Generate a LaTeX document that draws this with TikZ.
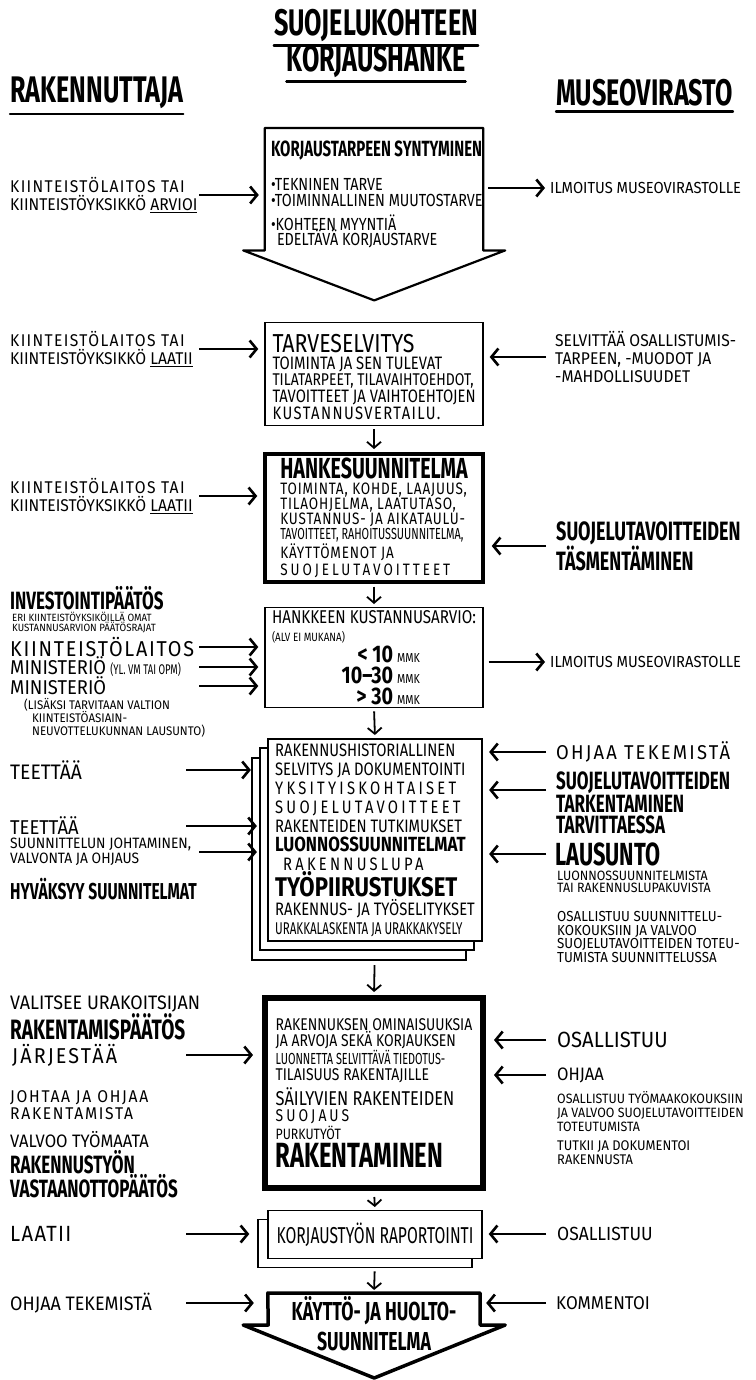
\documentclass[tikz,border=0pt]{standalone}
\usepackage{fontspec}
\setmainfont{Fira Sans}[FakeStretch=0.92]
\newfontfamily\semi{Fira Sans}[FakeStretch=0.82]
\newfontfamily\cond{Fira Sans}[FakeStretch=0.68]
\usetikzlibrary{arrows.meta,shadows}
\newcommand\fs[2]{\fontsize{#1}{#2}\selectfont}
\newcommand\spaced[1]{{\addfontfeatures{LetterSpace=18}#1}}
\newcommand\wide[2]{{\addfontfeatures{LetterSpace=#1}#2}}
\begin{document}
\begin{tikzpicture}[x=1pt,y=-1pt,
	lab/.style={anchor=west,align=left,inner sep=0pt,font=\fs{17}{18}},
	hd/.style={anchor=west,align=left,inner sep=0pt},
	txt/.style={anchor=north west,align=left,inner sep=0pt},
	box/.style={draw,anchor=north,align=left,minimum width=218pt,inner xsep=6pt,inner ysep=0pt,font=\semi\fs{18}{17}},
	arr/.style={line width=2.6pt,-{Straight Barb[length=7pt,width=17pt]},shorten >=6pt},
	down/.style={line width=1.8pt,-{Straight Barb[length=6pt,width=14pt]},shorten <=3pt,shorten >=3pt},
	ul/.style={line width=2.4pt,line cap=round}]
	\useasboundingbox (0,0) rectangle (755,1380);
	\coordinate (lx) at (199,0);
	\coordinate (ls) at (186,0);
	\coordinate (rx) at (546,0);
	
	\node (tt) at (376,25) [inner sep=0pt,font=\cond\bfseries\fs{37}{37}] {SUOJELUKOHTEEN};
	\node (tk) at (376,61) [inner sep=0pt,font=\cond\bfseries\fs{37}{37}] {KORJAUSHANKE};
	\node (rak) at (10,93) [hd,font=\cond\bfseries\fs{37}{37}] {RAKENNUTTAJA};
	\node (mus) at (556,93) [hd,font=\cond\bfseries\fs{37}{37}] {MUSEOVIRASTO};
	\draw[ul] ([yshift=-4pt]tt.south west) -- ([yshift=-4pt]tt.south east);
	\draw[ul] ([yshift=-4pt]tk.south west) -- ([yshift=-4pt]tk.south east);
	\draw[ul] ([yshift=-5pt]rak.south west) -- ([yshift=-5pt]rak.south east);
	\draw[ul] ([yshift=-5pt]mus.south west) -- ([yshift=-5pt]mus.south east);
	
	\node (b1) at (374,128) [box,draw=none,minimum height=122pt] {};
	\draw[line width=2.2pt,line join=round] (b1.south west) -- (b1.north west) -- (b1.north east)
	-- (b1.south east) -- ++(22,0) -- ++(-131,50) -- ++(-131,-50) -- cycle;
	\node (b1t) at ([shift={(6,13)}]b1.north west) [txt,font=\semi\fs{17.5}{16}]
	{{\cond\bfseries\fs{22}{22}KORJAUSTARPEEN SYNTYMINEN}\\[18pt]
		•TEKNINEN TARVE\\
		•TOIMINNALLINEN MUUTOSTARVE\\[8pt]
		•KOHTEEN MYYNTIÄ\\[-1pt]
		\hspace*{6pt}EDELTÄVÄ KORJAUSTARVE};
	
	\node (b2) at (374,322) [box,line width=1.4pt,minimum height=103pt] {};
	\node (b2t) at ([shift={(8,12)}]b2.north west) [txt,font=\semi\fs{18}{16.7}]
	{{\fs{26}{26}TARVESELVITYS}\\[0pt]
		TOIMINTA JA SEN TULEVAT\\
		{\fs{17}{16.7}TILATARPEET, TILAVAIHTOEHDOT,}\\
		TAVOITTEET JA VAIHTOEHTOJEN\\
		\wide{8}{KUSTANNUSVERTAILU.}};
	
	\node (b3) at (374,452) [box,line width=3.5pt,minimum height=128pt,font=\semi\fs{16.5}{15}\addfontfeatures{LetterSpace=5}]
	{{\cond\bfseries\fs{29}{29}HANKESUUNNITELMA}\\[1pt]
		TOIMINTA, KOHDE, LAAJUUS,\\
		TILAOHJELMA, LAATUTASO,\\
		KUSTANNUS- JA AIKATAULU-\\
		{\cond\fs{16}{15}TAVOITTEET, RAHOITUSSUUNNITELMA,}\\
		KÄYTTÖMENOT JA\\[2pt]
		\spaced{SUOJELUTAVOITTEET}};
	
	\node (b4) at (374,607) [box,line width=1.4pt,minimum height=100pt,font=\semi\fs{18.5}{21}]
	{HANKKEEN KUSTANNUSARVIO:\\[-3pt]
		{\fs{12}{12}(ALV EI MUKANA)}\\
		\makebox[148pt][r]{{\bfseries\fs{24}{22}< 10} {\fs{13}{13}MMK}}\\
		\makebox[148pt][r]{{\bfseries\fs{24}{22}10–30} {\fs{13}{13}MMK}}\\
		\makebox[148pt][r]{{\bfseries\fs{24}{22}> 30} {\fs{13}{13}MMK}}};
	
	\node (b5) at (375,738) [box,fill=white,line width=2.2pt,minimum width=214pt,minimum height=202pt,font=\semi\fs{18}{19},
	general shadow={shadow xshift=-16pt,shadow yshift=-19pt,draw,fill=white,line width=2pt},
	general shadow={shadow xshift=-8pt,shadow yshift=-9pt,draw,fill=white,line width=2pt}]
	{RAKENNUSHISTORIALLINEN\\
		SELVITYS JA DOKUMENTOINTI\\
		\spaced{YKSITYISKOHTAISET}\\
		\spaced{SUOJELUTAVOITTEET}\\
		RAKENTEIDEN TUTKIMUKSET\\
		{\bfseries\fs{20.5}{20}LUONNOSSUUNNITELMAT}\\
		\hspace*{8pt}\spaced{RAKENNUSLUPA}\\
		{\bfseries\fs{27}{24}TYÖPIIRUSTUKSET}\\
		RAKENNUS- JA TYÖSELITYKSET\\
		{\cond\fs{17}{17}URAKKALASKENTA JA URAKKAKYSELY}};
	
	\node (b6) at (374,995) [box,line width=6pt,minimum height=190pt,font=\semi\fs{17}{16.5}]
	{RAKENNUKSEN OMINAISUUKSIA\\
		JA ARVOJA SEKÄ KORJAUKSEN\\
		{\cond\fs{16}{16}LUONNETTA SELVITTÄVÄ TIEDOTUS-}\\
		TILAISUUS RAKENTAJILLE\\[3pt]
		{\fs{20}{20}SÄILYVIEN RAKENTEIDEN}\\
		\spaced{SUOJAUS}\\[1pt]
		{\fs{15}{15}PURKUTYÖT}\\[3pt]
		{\cond\bfseries\fs{35}{35}RAKENTAMINEN}};
	
	\node (b7) at (375,1210) [box,fill=white,line width=1.4pt,minimum width=214pt,minimum height=48pt,
	general shadow={shadow xshift=-10pt,shadow yshift=-9pt,draw,fill=white,line width=1.4pt}]
	{{\cond\fs{23}{23}KORJAUSTYÖN RAPORTOINTI}};
	
	\node (b8) at (374,1293) [anchor=north,align=center,minimum width=212pt,inner ysep=3pt,font=\cond\bfseries\fs{26}{30}]
	{KÄYTTÖ- JA HUOLTO-\\SUUNNITELMA};
	\draw[line width=3.5pt,line join=round] (b8.north west) -- (b8.north east) -- ++(0,32) -- ++(25,0)
	-- ++(-131,53) -- ++(-131,-53) -- ++(25,0) -- cycle;
	
	\node (l1) at (10,195) [lab] {\wide{8}{KIINTEISTÖLAITOS TAI}\\KIINTEISTÖYKSIKKÖ \underline{ARVIOI}};
	\node (l2) at (10,349) [lab] {\wide{8}{KIINTEISTÖLAITOS TAI}\\KIINTEISTÖYKSIKKÖ \underline{LAATII}};
	\node (l3) at (10,496) [lab] {\wide{8}{KIINTEISTÖLAITOS TAI}\\KIINTEISTÖYKSIKKÖ \underline{LAATII}};
	\node (inv) at (10,598) [hd,font=\cond\bfseries\fs{25}{25}] {INVESTOINTIPÄÄTÖS};
	\node (invn) at (12,623) [lab,font=\fs{10.5}{10}] {ERI KIINTEISTÖYKSIKÖILLÄ OMAT\\KUSTANNUSARVION PÄÄTÖSRAJAT};
	\node (kl) at (10,647) [lab,font=\fs{21.5}{21}\addfontfeatures{LetterSpace=8}] {KIINTEISTÖLAITOS};
	\node (m1) at (10,667) [lab] {{\fs{20}{20}MINISTERIÖ} {\cond\fs{14}{14}(YL. VM TAI OPM)}};
	\node (m2) at (10,686) [lab,font=\fs{20}{20}] {MINISTERIÖ};
	\node (m2n) at (24,718) [lab,font=\fs{12.5}{13}] {(LISÄKSI TARVITAAN VALTION\\\hspace*{8pt}KIINTEISTÖASIAIN-\\\hspace*{8pt}NEUVOTTELUKUNNAN LAUSUNTO)};
	\node (t1) at (10,770) [lab,font=\fs{21}{21}] {TEETTÄÄ};
	\node (t2) at (10,826) [lab,font=\fs{20}{20}] {TEETTÄÄ};
	\node (sj) at (10,852) [lab,font=\fs{15}{15}] {SUUNNITTELUN JOHTAMINEN,\\VALVONTA JA OHJAUS};
	\node (hs) at (10,889) [hd,font=\cond\bfseries\fs{23}{22}] {HYVÄKSYY SUUNNITELMAT};
	\node (vu) at (10,1004) [lab,font=\fs{19.5}{19}] {VALITSEE URAKOITSIJAN};
	\node (rp) at (10,1027) [hd,font=\cond\bfseries\fs{28}{28}] {RAKENTAMISPÄÄTÖS};
	\node (jr) at (12,1055) [lab,font=\fs{21.5}{21}\addfontfeatures{LetterSpace=10}] {JÄRJESTÄÄ};
	\node (jo) at (10,1105) [lab,font=\fs{17}{17}\addfontfeatures{LetterSpace=10}] {JOHTAA JA OHJAA\\RAKENTAMISTA};
	\node (vt) at (10,1140) [lab,font=\fs{18}{18}] {VALVOO TYÖMAATA};
	\node (rv) at (10,1174) [hd,font=\cond\bfseries\fs{25}{22}] {RAKENNUSTYÖN\\VASTAANOTTOPÄÄTÖS};
	\node (la) at (10,1234) [lab,font=\fs{22}{22}\addfontfeatures{LetterSpace=6}] {LAATII};
	\node (ot) at (10,1303) [lab,font=\fs{19.5}{19}] {OHJAA TEKEMISTÄ};
	
	\node (r1) at (550,188) [lab,font=\fs{16}{16}] {ILMOITUS MUSEOVIRASTOLLE};
	\node (r2) at (555,357) [lab,font=\fs{17}{18}] {SELVITTÄÄ OSALLISTUMIS-\\TARPEEN, -MUODOT JA\\-MAHDOLLISUUDET};
	\node (r3) at (556,546) [hd,font=\cond\bfseries\fs{26.5}{22}] {SUOJELUTAVOITTEIDEN\\TÄSMENTÄMINEN};
	\node (r4) at (550,662) [lab,font=\fs{16}{16}] {ILMOITUS MUSEOVIRASTOLLE};
	\node (r5) at (556,752) [lab,font=\fs{20}{20}\addfontfeatures{LetterSpace=11}] {OHJAA TEKEMISTÄ};
	\node (r6) at (556,803) [hd,font=\cond\bfseries\fs{25}{21}] {SUOJELUTAVOITTEIDEN\\TARKENTAMINEN\\TARVITTAESSA};
	\coordinate (r6a) at ([yshift=13pt]r6.west);
	\node (r7) at (555,854) [hd,font=\cond\bfseries\fs{32}{32}] {LAUSUNTO};
	\node (r7n) at (557,882) [lab,font=\fs{13.5}{12}] {LUONNOSSUUNNITELMISTA\\TAI RAKENNUSLUPAKUVISTA};
	\node (r8) at (557,937) [lab,font=\fs{14.5}{13.5}] {OSALLISTUU SUUNNITTELU-\\KOKOUKSIIN JA VALVOO\\SUOJELUTAVOITTEIDEN TOTEU-\\TUMISTA SUUNNITTELUSSA};
	\node (r9) at (557,1040) [lab,font=\fs{22}{22}] {OSALLISTUU};
	\node (r10) at (557,1075) [lab,font=\fs{18}{18}] {OHJAA};
	\node (r11) at (557,1112) [lab,font=\fs{13.5}{14}] {OSALLISTUU TYÖMAAKOKOUKSIIN\\JA VALVOO SUOJELUTAVOITTEIDEN\\TOTEUTUMISTA};
	\node (r12) at (557,1153) [lab,font=\fs{14}{14}] {TUTKII JA DOKUMENTOI\\RAKENNUSTA};
	\node (r13) at (557,1234) [lab,font=\fs{19}{19}] {OSALLISTUU};
	\node (r14) at (556,1303) [lab,font=\fs{18.5}{18}] {KOMMENTOI};
	
	\path (l1 -| lx) edge[arr] (l1 -| b1.west);
	\path (l2 -| lx) edge[arr] (l2 -| b2.west);
	\path (l3 -| lx) edge[arr] (l3 -| b3.west);
	\path (kl -| lx) edge[arr] (kl -| b4.west);
	\path (m1 -| lx) edge[arr] (m1 -| b4.west);
	\path (m2 -| lx) edge[arr] (m2 -| b4.west);
	\path (t1 -| ls) edge[arr,shorten >=16pt] (t1 -| b5.west);
	\path (t2 -| ls) edge[arr,shorten >=10pt] (t2 -| b5.west);
	\path (sj -| lx) edge[arr,shorten >=10pt] (sj -| b5.west);
	\path (jr -| ls) edge[arr,shorten >=9pt] (jr -| b6.west);
	\path (la -| ls) edge[arr,shorten >=18pt] (la -| b7.west);
	\path (ot -| ls) edge[arr,shorten >=14pt] (ot -| b8.west);
	
	\path (r1 -| b1.east) edge[arr,shorten <=5pt,shorten >=1pt] (r1 -| rx);
	\path (r4 -| b4.east) edge[arr,shorten <=5pt,shorten >=1pt] (r4 -| rx);
	\path (r2 -| rx) edge[arr] (r2 -| b2.east);
	\path (r3 -| rx) edge[arr,shorten >=7pt] (r3 -| b3.east);
	\path (r5 -| rx) edge[arr] (r5 -| b5.east);
	\path (r6a -| rx) edge[arr] (r6a -| b5.east);
	\path (r7 -| rx) edge[arr] (r7 -| b5.east);
	\path (r9 -| rx) edge[arr,shorten >=8pt] (r9 -| b6.east);
	\path (r10 -| rx) edge[arr,shorten >=8pt] (r10 -| b6.east);
	\path (r13 -| rx) edge[arr] (r13 -| b7.east);
	\path (r14 -| rx) edge[arr] (r14 -| b8.east);
	
	\path (b2.south) edge[down] (b3.north);
	\path (b3.south) edge[down] (b4.north);
	\path (b4.south) edge[down] (b5.north);
	\path (b5.south) edge[down,shorten <=23pt] (b6.north);
	\path (b6.south) edge[down,shorten <=6pt] (b7.north);
	\path (b7.south) edge[down,shorten <=12pt] (b8.north);
\end{tikzpicture}
\end{document}
